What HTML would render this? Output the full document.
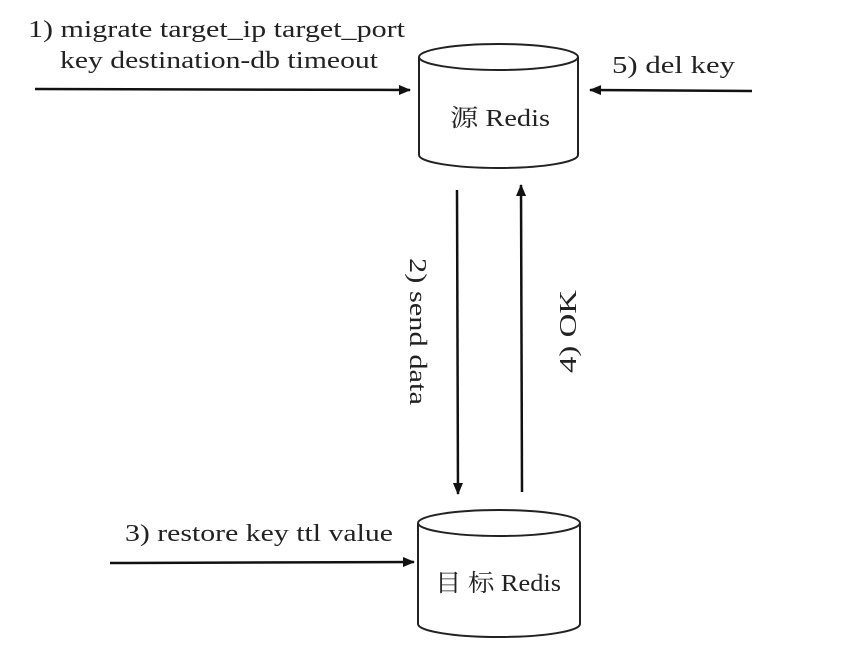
<!DOCTYPE html>
<html><head><meta charset="utf-8"><style>
body{margin:0;background:#fff}
svg text{font-family:"Liberation Serif","Noto Serif CJK SC",serif;fill:#222}
</style></head><body>
<svg width="857" height="665" viewBox="0 0 857 665" xmlns="http://www.w3.org/2000/svg">
<defs><marker id="a" markerWidth="12" markerHeight="10" refX="11" refY="5" orient="auto" markerUnits="userSpaceOnUse"><path d="M0,0 L12,5 L0,10 Z" fill="#111"/></marker></defs>
<g stroke="#222" stroke-width="2" fill="#fff">
<path d="M419,57 L419,155 A79.5,13 0 0 0 578,155 L578,57"/>
<ellipse cx="498.5" cy="57" rx="79.5" ry="13"/>
<path d="M418,523 L418,624 A81,13 0 0 0 580,624 L580,523"/>
<ellipse cx="499" cy="523" rx="81" ry="13"/>
</g>
<g stroke="#111" stroke-width="2.5" fill="none" marker-end="url(#a)">
<line x1="35" y1="89" x2="410" y2="90"/>
<line x1="752" y1="91" x2="590" y2="90"/>
<line x1="457" y1="190" x2="458" y2="494"/>
<line x1="522" y1="492" x2="521" y2="185"/>
<line x1="110" y1="563" x2="414" y2="562"/>
</g>
<g font-size="24">
<text x="28" y="37" textLength="377" lengthAdjust="spacingAndGlyphs">1) migrate target_ip target_port</text>
<text x="60" y="68" textLength="318" lengthAdjust="spacingAndGlyphs">key destination-db timeout</text>
<text x="612" y="73" textLength="123" lengthAdjust="spacingAndGlyphs">5) del key</text>
<text x="125" y="541" textLength="268" lengthAdjust="spacingAndGlyphs">3) restore key ttl value</text>
<text x="450" y="126" textLength="100" lengthAdjust="spacingAndGlyphs">源 Redis</text>
<text x="435" y="591" textLength="126" lengthAdjust="spacingAndGlyphs">目 标 Redis</text>
<text transform="translate(410,258) rotate(90)" textLength="147" lengthAdjust="spacingAndGlyphs">2) send data</text>
<text transform="translate(576,373) rotate(-90)" textLength="83" lengthAdjust="spacingAndGlyphs">4) OK</text>
</g>
</svg>
</body></html>
